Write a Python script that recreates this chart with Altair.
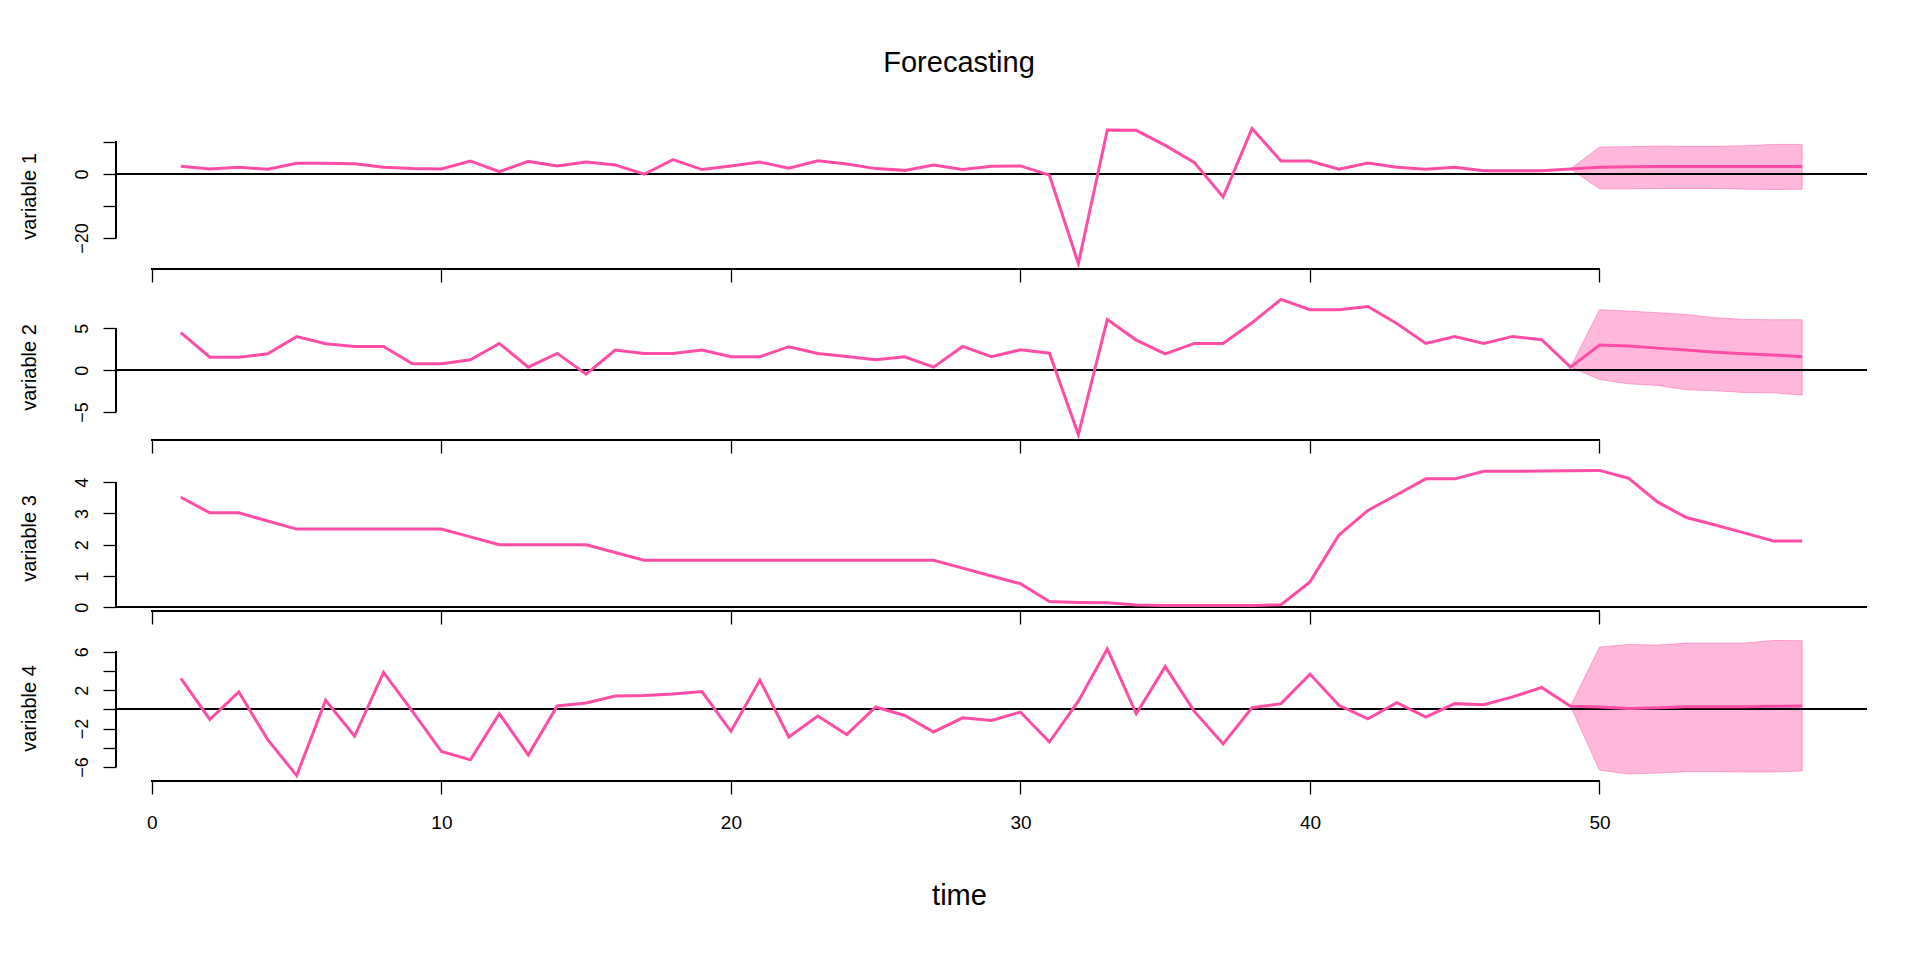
import altair as alt
import pandas as pd

# ---------------- data ----------------
t_obs = list(range(1, 50))
t_fc = list(range(50, 58))

v1_obs = [2.4, 1.55, 2.1, 1.45, 3.3, 3.3, 3.2, 2.1, 1.65, 1.55, 4.0, 0.7, 3.9, 2.5, 3.7, 2.8, -0.1,
          4.45, 1.35, 2.5, 3.7, 1.75, 4.1, 3.1, 1.65, 1.1, 2.8, 1.4, 2.4, 2.5, -0.4, -28.0, 13.7,
          13.6, 8.9, 3.6, -7.2, 14.2, 4.0, 4.0, 1.45, 3.4, 2.1, 1.45, 2.1, 1.0, 1.0, 1.0, 1.55]
v1_fc = [2.1, 2.2, 2.3, 2.3, 2.3, 2.3, 2.3, 2.3]
v1_lo = [-4.66, -4.66, -4.55, -4.55, -4.55, -4.76, -4.87, -4.76]
v1_hi = [8.4, 8.5, 8.7, 8.6, 8.6, 8.8, 9.2, 9.2]

v2_obs = [4.47, 1.55, 1.55, 1.95, 4.0, 3.15, 2.83, 2.83, 0.76, 0.76, 1.24, 3.19, 0.36, 2.0, -0.48,
          2.4, 2.0, 2.0, 2.4, 1.6, 1.6, 2.8, 2.0, 1.63, 1.24, 1.6, 0.36, 2.83, 1.6, 2.43, 2.03, -7.7,
          6.06, 3.59, 1.95, 3.19, 3.19, 5.66, 8.45, 7.22, 7.22, 7.6, 5.58, 3.19, 4.0, 3.19, 4.03,
          3.63, 0.36]
v2_fc = [2.99, 2.87, 2.63, 2.4, 2.15, 1.95, 1.8, 1.6]
v2_lo = [-1.12, -1.63, -1.83, -2.35, -2.47, -2.67, -2.71, -2.99]
v2_hi = [7.22, 7.06, 6.86, 6.66, 6.26, 6.06, 6.02, 6.02]

v3_obs = [3.52, 3.02, 3.02, 2.76, 2.5, 2.5, 2.5, 2.5, 2.5, 2.5, 2.25, 2.0, 2.0, 2.0, 2.0, 1.75,
          1.5, 1.5, 1.5, 1.5, 1.5, 1.5, 1.5, 1.5, 1.5, 1.5, 1.5, 1.25, 1.0, 0.75, 0.18, 0.15, 0.14,
          0.07, 0.05, 0.05, 0.05, 0.05, 0.08, 0.81, 2.31, 3.1, 3.6, 4.11, 4.11, 4.35, 4.35, 4.36,
          4.37]
v3_fc = [4.38, 4.13, 3.37, 2.87, 2.63, 2.38, 2.12, 2.12]

v4_obs = [3.23, -1.05, 1.82, -3.16, -6.9, 0.95, -2.8, 3.86, -0.2, -4.39, -5.26, -0.46, -4.74,
          0.35, 0.67, 1.4, 1.44, 1.61, 1.86, -2.28, 3.05, -2.88, -0.7, -2.63, 0.25, -0.63, -2.35,
          -0.88, -1.16, -0.28, -3.4, 0.85, 6.3, -0.46, 4.46, -0.18, -3.6, 0.18, 0.6, 3.68, 0.42,
          -0.98, 0.7, -0.8, 0.6, 0.49, 1.3, 2.28, 0.32]
v4_fc = [0.25, 0.1, 0.18, 0.28, 0.28, 0.28, 0.32, 0.35]
v4_lo = [-6.32, -6.74, -6.63, -6.49, -6.49, -6.53, -6.53, -6.42]
v4_hi = [6.49, 6.77, 6.7, 6.91, 6.91, 6.91, 7.19, 7.16]

x_ticks = [0, 10, 20, 30, 40, 50]
panels = [
    ("variable 1", v1_obs, v1_fc, v1_lo, v1_hi, [-20, -10, 0, 10], [-20, 0]),
    ("variable 2", v2_obs, v2_fc, v2_lo, v2_hi, [-5, 0, 5], [-5, 0, 5]),
    ("variable 3", v3_obs, v3_fc, None, None, [0, 1, 2, 3, 4], [0, 1, 2, 3, 4]),
    ("variable 4", v4_obs, v4_fc, v4_lo, v4_hi, [-6, -4, -2, 0, 2, 4, 6], [-6, -2, 2, 6]),
]

# ---------------- styling ----------------
PINK = "#FF4DA6"
FONT = "Liberation Sans"
W = 1751
H = 146
TICK = 13


def extend(lo, hi, f=0.04):
    d = (hi - lo) * f
    return [lo - d, hi + d]


t_all = t_obs + t_fc
x_dom = extend(min(t_all), max(t_all))


def make_panel(name, obs, fc, lo, hi, yticks, shown, last):
    vals = obs + fc + (lo or []) + (hi or [])
    y_dom = extend(min(vals), max(vals))
    xs = alt.Scale(domain=x_dom, nice=False, zero=False)
    ys = alt.Scale(domain=y_dom, nice=False, zero=False)

    shown_expr = " || ".join(f"datum.value == {v}" for v in shown)
    yaxis = alt.Axis(values=yticks, domain=False, grid=False, ticks=True, tickSize=TICK,
                     tickWidth=1.3, tickColor="black", labelAngle=270, labelAlign="center",
                     labelBaseline="alphabetic", labelPadding=16, labelFontSize=18,
                     labelOverlap=False, labelFont=FONT, labelColor="black",
                     labelExpr=f"({shown_expr}) ? datum.label : ''",
                     title=name, titleAngle=270, titleFont=FONT, titleFontSize=20,
                     titleFontWeight="normal", titleColor="black", titleX=-80.5, titleY=H / 2,
                     titleAlign="center", titleBaseline="alphabetic")
    if last:
        xaxis = alt.Axis(values=x_ticks, domain=False, grid=False, tickSize=TICK, tickWidth=1.3,
                         tickColor="black", labels=True, labelFontSize=19, labelFont=FONT,
                         labelColor="black", labelPadding=19, labelFlush=False, labelAngle=0,
                         labelOverlap=False,
                         title="time", titleFont=FONT, titleFontSize=29, titleFontWeight="normal",
                         titleColor="black", titleX=843, titleY=123, titleAlign="center",
                         titleBaseline="alphabetic")
    else:
        xaxis = alt.Axis(values=x_ticks, domain=False, grid=False, tickSize=TICK, tickWidth=1.3,
                         tickColor="black", labels=False, title=None)

    line_df = pd.DataFrame({"t": t_all, "v": obs + fc})
    base_line = alt.Chart(line_df).mark_line(color=PINK, strokeWidth=3, strokeJoin="miter").encode(
        x=alt.X("t:Q", scale=xs, axis=xaxis),
        y=alt.Y("v:Q", scale=ys, axis=yaxis),
    )
    layers = []
    if lo is not None:
        band_df = pd.DataFrame({"t": [t_obs[-1]] + t_fc,
                                "lo": [obs[-1]] + lo,
                                "hi": [obs[-1]] + hi})
        band = alt.Chart(band_df).mark_area(color=PINK, fillOpacity=0.4, stroke=PINK,
                                            strokeOpacity=0.45, strokeWidth=1).encode(
            x=alt.X("t:Q", scale=xs, axis=xaxis),
            y=alt.Y("lo:Q", scale=ys, axis=yaxis),
            y2="hi:Q",
        )
        layers.append(band)
    zero = alt.Chart(line_df).mark_rule(color="black", strokeWidth=1.3).encode(
        y=alt.YDatum(0, axis=yaxis))
    yline = alt.Chart(line_df).mark_rule(color="black", strokeWidth=1.3).encode(
        x=alt.value(0), y=alt.YDatum(min(yticks), axis=yaxis), y2=alt.datum(max(yticks)))
    xline = alt.Chart(line_df).mark_rule(color="black", strokeWidth=1.3).encode(
        x=alt.XDatum(x_ticks[0], axis=xaxis), x2=alt.datum(x_ticks[-1]), y=alt.value(H))
    layers += [zero, base_line, yline, xline]
    return alt.layer(*layers).properties(width=W, height=H)


charts = [make_panel(n, o, f, l, h, yt, sh, i == len(panels) - 1)
          for i, (n, o, f, l, h, yt, sh) in enumerate(panels)]

chart = alt.vconcat(*charts, spacing=10).properties(
    title=alt.TitleParams("Forecasting", font=FONT, fontSize=29, fontWeight="normal",
                          color="black", anchor="start", frame="group", dx=843,
                          align="center", baseline="alphabetic", offset=21),
    padding={"left": 11, "top": 41, "right": 5, "bottom": 5},
    background="white",
).configure_view(stroke="transparent", strokeWidth=0).configure_axis(labelOverlap=False)

chart.save("out.html", embed_options={"renderer": "svg", "actions": False})
